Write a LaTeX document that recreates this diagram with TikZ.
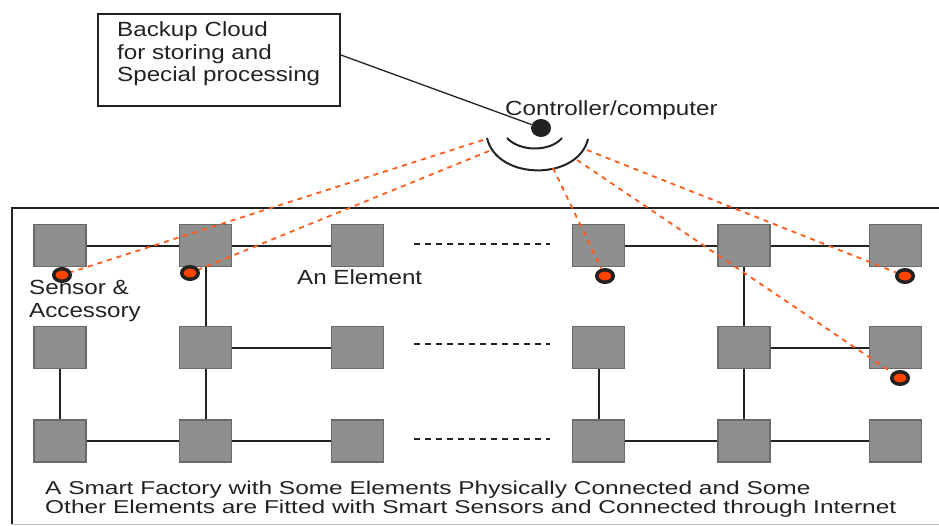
\documentclass[tikz,border=0pt]{standalone}
\usepackage{fontspec}
\setmainfont{Liberation Sans}[FakeStretch=1.18]
\newfontfamily\capfont{Liberation Sans}[FakeStretch=1.315]
\usetikzlibrary{shapes.geometric}
\definecolor{ink}{HTML}{222222}
\definecolor{sq}{HTML}{8F8F8F}
\definecolor{sqedge}{HTML}{6A6A6A}
\definecolor{radio}{HTML}{FF5A1A}
\definecolor{sensorfill}{HTML}{FF4400}
\begin{document}
\begin{tikzpicture}[x=1pt,y=-1pt,
  elem/.style={draw=sqedge, fill=sq, line width=1.3pt, minimum width=52pt, minimum height=42pt, inner sep=0pt},
  wire/.style={draw=ink, line width=2pt},
  radiolink/.style={draw=radio, line width=1.8pt, dash pattern=on 5pt off 5pt},
  sensor/.style={ellipse, draw=ink, fill=sensorfill, line width=3.5pt, minimum width=16.5pt, minimum height=12.5pt, inner sep=0pt},
  lbl/.style={anchor=base west, inner sep=0pt, text=ink, font=\fontsize{20.5}{22.5}\selectfont, align=left},
  caption/.style={anchor=base west, inner sep=0pt, text=ink, font=\capfont\fontsize{18.6}{18.3}\selectfont, align=left},
  gapdots/.style={draw=ink, line width=1.5pt, dash pattern=on 5.5pt off 5.5pt}
]
\useasboundingbox (0,0) rectangle (939,525);
\clip (0,0) rectangle (939,525);

% factory frame
\draw[ink, line width=1.8pt] (12,524) -- (12,208) -- (945,208);
\draw[black!25, line width=1pt] (12,524) -- (945,524);

% backup cloud
\node[draw=ink, line width=1.8pt, minimum width=242pt, minimum height=92pt, inner sep=0pt] (cloud) at (219,60) {};
\node[lbl] (cloudtxt) at (117,81.5) {Backup Cloud\\for storing and\\Special processing};

% controller
\node[ellipse, fill=ink, minimum width=20pt, minimum height=18pt, inner sep=0pt] (ctrl) at (541,128) {};
\node[lbl] (ctrltxt) at (505,115) {Controller/computer};
\draw[wire, line width=1.3pt] ([yshift=5pt]cloud.east) -- (ctrl);
\draw[wire] (507,138) .. controls (520,152) and (550,152) .. (562,138);
\draw[wire] (487,138) .. controls (497,181) and (578,181) .. (588,139);
\coordinate (a1) at (483,140);
\coordinate (a2) at (489,151);
\coordinate (a3) at (553,168);
\coordinate (a4) at (587,150);
\coordinate (a5) at (577,160);

% elements
\foreach \c/\x in {1/60,2/205.5,3/357.5,4/598.5,5/744,6/895.5}{
  \node[elem] (e\c1) at (\x,245.5) {};
  \node[elem] (e\c2) at (\x,347.5) {};
  \node[elem] (e\c3) at (\x,441) {};
}

% physical links
\draw[wire] (e11) -- (e21);
\draw[wire] (e21) -- (e31);
\draw[wire] (e41) -- (e51);
\draw[wire] (e51) -- (e61);
\draw[wire] (e21) -- (e22);
\draw[wire] (e51) -- (e52);
\draw[wire] (e22) -- (e32);
\draw[wire] (e52) -- (e62);
\draw[wire] (e12) -- (e13);
\draw[wire] (e22) -- (e23);
\draw[wire] (e42) -- (e43);
\draw[wire] (e52) -- (e53);
\draw[wire] (e13) -- (e23);
\draw[wire] (e23) -- (e33);
\draw[wire] (e43) -- (e53);
\draw[wire] (e53) -- (e63);

% ellipsis dashes
\coordinate (g1a) at (414,244); \coordinate (g1b) at (550,244);
\coordinate (g2a) at (414,344); \coordinate (g2b) at (550,344);
\coordinate (g3a) at (414,439); \coordinate (g3b) at (550,439);
\draw[gapdots] (g1a) -- (g1b);
\draw[gapdots] (g2a) -- (g2b);
\draw[gapdots] (g3a) -- (g3b);

% sensors
\node[sensor] (s1) at (62,275) {};
\node[sensor] (s2) at (190,273) {};
\node[sensor] (s3) at (605,276) {};
\node[sensor] (s4) at (905,276) {};
\node[sensor] (s5) at (900,378) {};

% wireless links
\draw[radiolink] (a1) -- (s1);
\draw[radiolink] (a2) -- (s2);
\draw[radiolink] (a3) -- (s3);
\draw[radiolink] (a4) -- (s4);
\draw[radiolink] (a5) -- (s5);

% labels
\node[lbl] (sensortxt) at (29,317) {Sensor \&\\Accessory};
\node[lbl] (elemtxt) at (297,284) {An Element};
\node[caption] (captxt) at (45,513) {A Smart Factory with Some Elements Physically Connected and Some\\Other Elements are Fitted with Smart Sensors and Connected through Internet};
\end{tikzpicture}
\end{document}
